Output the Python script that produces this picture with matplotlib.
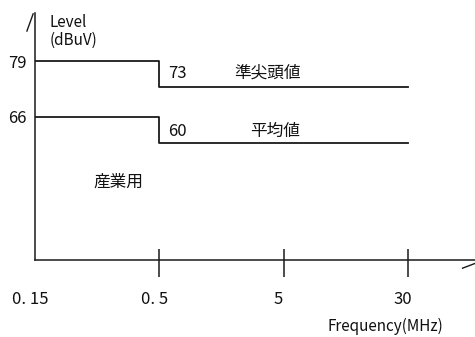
import matplotlib.pyplot as plt
from matplotlib.transforms import ScaledTranslation

plt.rcParams['font.family'] = ['Noto Sans CJK JP', 'DejaVu Sans']

# frequency band edges (category positions on the axis)
freq_labels = ["0. 15", "0. 5", "5", "30"]
band_pos = [0, 1, 3]
quasi_peak = [79, 73, 73]   # 準尖頭値
average = [66, 60, 60]      # 平均値
level_ticks = [66, 79]

fig = plt.figure(figsize=(4.75, 3.37), dpi=100)
ax = fig.add_axes([35/475, 77/337, 440/475, 247/337])
ax.set_xlim(0, 3.54)
ax.set_ylim(32.7, 90.2)

col = "#1a1a1a"
ax.step(band_pos, quasi_peak, where="post", color=col, lw=1.3)
ax.step(band_pos, average, where="post", color=col, lw=1.3)

for s in ["top", "right"]:
    ax.spines[s].set_visible(False)
for s in ["left", "bottom"]:
    ax.spines[s].set_linewidth(1.1)
    ax.spines[s].set_color(col)

# x ticks: crossing marks at 0.5, 5, 30
ax.set_xticks(range(len(freq_labels)))
ax.set_xticklabels(freq_labels, fontsize=12, color="#111")
ax.set_xticks([1, 2, 3], minor=True)
ax.xaxis.remove_overlapping_locs = False
ax.tick_params(axis="x", which="major", direction="out", length=12, width=1.1, pad=10, color=col)
ax.tick_params(axis="x", which="minor", direction="in", length=8, width=1.1, color=col)
ax.xaxis.get_major_ticks()[0].tick1line.set_visible(False)
off = ScaledTranslation(-5/100, 0, fig.dpi_scale_trans)
for lab in ax.get_xticklabels():
    lab.set_transform(lab.get_transform() + off)

ax.set_yticks(level_ticks)
ax.set_yticklabels([str(v) for v in level_ticks], fontsize=12, color="#111")
ax.tick_params(axis="y", length=0, pad=6)

ax.text(0.12, 88.0, "Level", fontsize=11, ha="left", va="center", color="#111")
ax.text(0.12, 83.9, "(dBuV)", fontsize=11, ha="left", va="center", color="#111")
ax.text(1.07, 76.0, "73", fontsize=12, ha="left", va="center", color="#111")
ax.text(1.07, 62.5, "60", fontsize=12, ha="left", va="center", color="#111")
ax.text(1.875, 76.2, "準尖頭値", fontsize=12, ha="center", va="center", color="#111")
ax.text(1.93, 62.7, "平均値", fontsize=12, ha="center", va="center", color="#111")
ax.text(0.67, 50.8, "産業用", fontsize=12, ha="center", va="center", color="#111")
ax.text(2.82, 17.3, "Frequency(MHz)", fontsize=11, ha="center", va="center",
        color="#111", clip_on=False)

# broken arrow heads at the axis ends
ax.plot([-0.065, -0.015], [86.0, 90.0], color=col, lw=1.0, clip_on=False)
ax.plot([3.44, 3.54], [30.8, 31.9], color=col, lw=1.0, clip_on=False)

fig.savefig("out.png", dpi=100)
